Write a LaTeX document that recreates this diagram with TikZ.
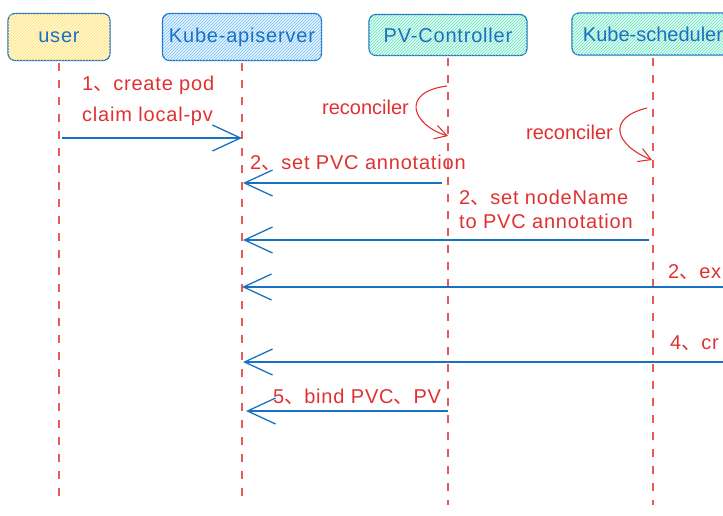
\documentclass[tikz,border=0pt]{standalone}
\usepackage{fontspec}
\setmainfont[LetterSpace=4]{Liberation Sans}
\newfontfamily\tight{Liberation Sans}
\newfontfamily\cjk{Noto Sans CJK SC}
\usetikzlibrary{arrows.meta,positioning,calc,patterns}
\definecolor{cLine}{HTML}{1971C2}
\definecolor{cText}{HTML}{E03131}
\definecolor{cLife}{HTML}{E8595A}
\definecolor{cUser}{HTML}{FFF8D9}
\definecolor{cUserH}{HTML}{FFE066}
\definecolor{cApi}{HTML}{E7F4FF}
\definecolor{cApiH}{HTML}{74C0FC}
\definecolor{cCtl}{HTML}{E3FAF3}
\definecolor{cCtlH}{HTML}{63E6BE}
\newcommand{\dun}{{\cjk 、}}

\begin{document}
\begin{tikzpicture}[
    x=1pt, y=-1pt,
    font=\fontsize{20}{24}\selectfont,
    actor/.style={draw=cLine, line width=1.2pt, rounded corners=7pt, text=cLine, inner sep=0pt},
    life/.style={draw=cLife, line width=1.6pt, dash pattern=on 8pt off 9pt},
    msg/.style={draw=cLine, line width=1.3pt, -{Straight Barb[length=28pt, width=26pt]}},
    loopy/.style={draw=cText, line width=1.1pt, -{Straight Barb[length=12pt, width=14pt]}},
    lbl/.style={text=cText, anchor=west, align=left, inner sep=0pt}
]
\useasboundingbox (0,0) rectangle (723,515);
\clip (0,0) rectangle (723,515);

% actors
\node[actor, fill=cUser, minimum width=102pt, minimum height=47pt,
  postaction={pattern=north east lines, pattern color=cUserH}] (user) at (59,37) {user};
\node[actor, fill=cApi, minimum width=159pt, minimum height=47pt,
  postaction={pattern=north east lines, pattern color=cApiH}] (api) at (242,37) {Kube-apiserver};
\node[actor, fill=cCtl, minimum width=158pt, minimum height=41pt,
  postaction={pattern=north east lines, pattern color=cCtlH}] (pvc) at (448,35) {PV-Controller};
\node[actor, fill=cCtl, minimum width=162pt, minimum height=42pt,
  postaction={pattern=north east lines, pattern color=cCtlH}] (sched) at (653,34) {\tight Kube-scheduler};

% lifelines
\coordinate (bottom) at (0,505);
\draw[life] ([yshift=-2pt]user.south) -- (user.south |- bottom);
\draw[life] ([yshift=-2pt]api.south) -- (api.south |- bottom);
\draw[life] ([yshift=-2pt]pvc.south) -- (pvc.south |- bottom);
\draw[life] ([yshift=-2pt]sched.south) -- (sched.south |- bottom);

% message rows
\coordinate (r1) at (0,138);
\coordinate (r2) at (0,183);
\coordinate (r3) at (0,240);
\coordinate (r4) at (0,287);
\coordinate (r5) at (0,362);
\coordinate (r6) at (0,411);
\coordinate (offright) at (780,0);

\draw[msg] ([xshift=3pt]user.south |- r1) -- (api.south |- r1);
\draw[msg] ([xshift=-6pt]pvc.south |- r2) -- ([xshift=1pt]api.south |- r2);
\draw[msg] ([xshift=-4pt]sched.south |- r3) -- ([xshift=1pt]api.south |- r3);
\draw[msg] (offright |- r4) -- (api.south |- r4);
\draw[msg] (offright |- r5) -- ([xshift=1pt]api.south |- r5);
\draw[msg] (pvc.south |- r6) -- ([xshift=4pt]api.south |- r6);

% reconcile loops
\coordinate (c1a) at (0,86);
\coordinate (c1b) at (0,136);
\coordinate (c2a) at (0,108);
\coordinate (c2b) at (0,160);
\draw[loopy] ([xshift=-1pt]pvc.south |- c1a) .. controls (400,92) and (412,125) .. (pvc.south |- c1b);
\draw[loopy] ([xshift=-6pt]sched.south |- c2a) .. controls (606,118) and (615,145) .. ([xshift=-1pt]sched.south |- c2b);

% labels
\node[lbl] (t1) at (82,101) {1\dun create pod\\[7pt]claim local-pv};
\node[lbl, font=\tight\fontsize{20}{24}\selectfont] (rc1) at (322,107) {reconciler};
\node[lbl, font=\tight\fontsize{20}{24}\selectfont] (rc2) at (526,132) {reconciler};
\node[lbl] (t2) at (250,163) {2\dun set PVC annotation};
\node[lbl] (t3) at (459,209) {2\dun set nodeName\\[0pt]to PVC annotation};
\node[lbl] (t4) at (668,272) {2\dun ex};
\node[lbl] (t5) at (670,343) {4\dun cr};
\node[lbl] (t6) at (273,397) {5\dun bind PVC\dun PV};

\end{tikzpicture}
\end{document}
